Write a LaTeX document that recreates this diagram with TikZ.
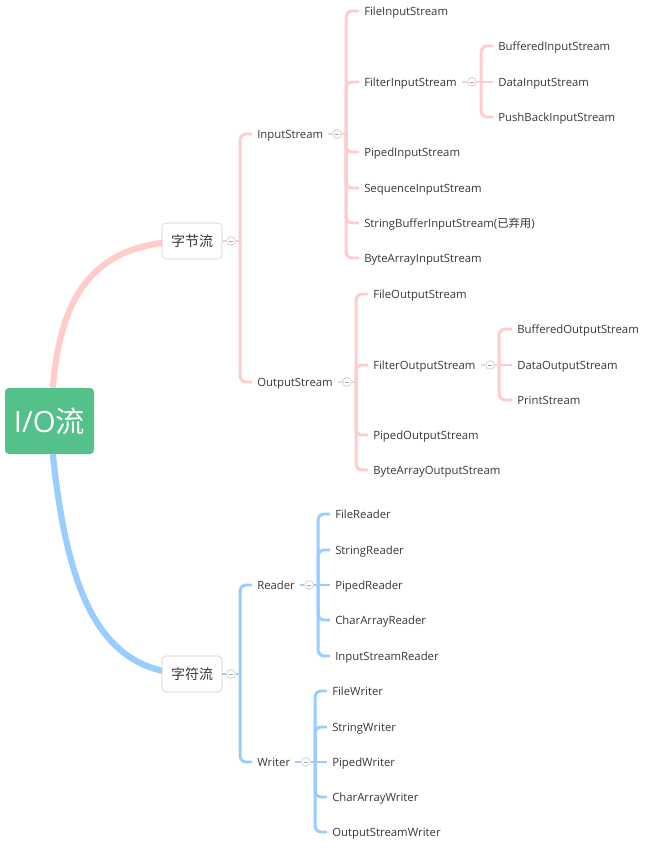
\documentclass[tikz,border=0pt]{standalone}
\usepackage{fontspec}
\setmainfont{Open Sans}
\newfontfamily\cjk{Noto Sans CJK SC}
\usetikzlibrary{positioning}

\definecolor{pinkline}{RGB}{255,204,204}
\definecolor{blueline}{RGB}{153,204,255}
\definecolor{rootgreen}{RGB}{84,192,138}
\newcommand{\leaffont}{\fontsize{8.5}{10}\selectfont}

\begin{document}
\begin{tikzpicture}[x=0.75pt, y=-0.75pt,
   leaf/.style = {anchor=west, inner xsep=3.75pt, inner ysep=1pt, text height=7.7pt,
                  text depth=1.3pt, font=\leaffont, text=black!78},
   fold/.style = {circle, draw=black!25, fill=white, minimum size=6.5pt, inner sep=0pt,
                  path picture={\draw[black!35, line width=.4pt]
                     ([xshift=-1.7pt]path picture bounding box.center) --
                     ([xshift=1.7pt]path picture bounding box.center);}},
   cat/.style = {rounded corners=3pt, draw=black!20, fill=white, minimum width=45pt,
                 minimum height=27pt, inner sep=0pt, font=\fontsize{10.5}{12}\cjk, text=black!78},
   pk/.style = {draw=pinkline, line width=2.2pt, rounded corners=4.5pt},
   bl/.style = {draw=blueline, line width=2.2pt, rounded corners=4.5pt}]
   \useasboundingbox (0,0) rectangle (644,848);
   \fill[white] (0,0) rectangle (644,848);

   % root and the two kinds of stream
   \node[rounded corners=3pt, fill=rootgreen, minimum width=66.75pt, minimum height=49.5pt,
         text=white, font=\fontsize{22}{26}\selectfont] (io) at (49.5,421) {I/O{\cjk 流}};
   \draw[pk, line width=4.6pt] ([xshift=2.5pt]io.north) .. controls (61,290) and (97,241) .. (192,241);
   \draw[bl, line width=4.6pt] ([xshift=2.5pt]io.south) .. controls (68,600) and (103,674) .. (192,674);
   \node[cat] (byte) at (192,241) {字节流};
   \node[cat] (char) at (192,674) {字符流};

   % byte streams
   \node[leaf] (in)  at (252,134) {InputStream};
   \node[leaf] (out) at (252,382) {OutputStream};

   \node[leaf] (fis)   at (359,11)  {FileInputStream};
   \node[leaf] (filis) at (359,82)  {FilterInputStream};
   \node[leaf] (pis)   at (359,152) {PipedInputStream};
   \node[leaf] (sis)   at (359,188) {SequenceInputStream};
   \node[leaf] (sbis)  at (359,223) {StringBufferInputStream({\cjk 已弃用})};
   \node[leaf] (bais)  at (359,258) {ByteArrayInputStream};

   \node[leaf] (bis)  at (493,46)  {BufferedInputStream};
   \node[leaf] (dis)  at (493,82)  {DataInputStream};
   \node[leaf] (pbis) at (493,117) {PushBackInputStream};

   \node[leaf] (fos)   at (368,294) {FileOutputStream};
   \node[leaf] (filos) at (368,365) {FilterOutputStream};
   \node[leaf] (pos)   at (368,435) {PipedOutputStream};
   \node[leaf] (baos)  at (368,470) {ByteArrayOutputStream};

   \node[leaf] (bos) at (512,329) {BufferedOutputStream};
   \node[leaf] (dos) at (512,365) {DataOutputStream};
   \node[leaf] (ps)  at (512,400) {PrintStream};

   % char streams
   \node[leaf] (rd) at (252,585) {Reader};
   \node[leaf] (wr) at (252,762) {Writer};

   \node[leaf] (frd)  at (330,514) {FileReader};
   \node[leaf] (srd)  at (330,550) {StringReader};
   \node[leaf] (prd)  at (330,585) {PipedReader};
   \node[leaf] (card) at (330,620) {CharArrayReader};
   \node[leaf] (isrd) at (330,656) {InputStreamReader};

   \node[leaf] (fwr)  at (327,691) {FileWriter};
   \node[leaf] (swr)  at (327,727) {StringWriter};
   \node[leaf] (pwr)  at (327,762) {PipedWriter};
   \node[leaf] (cawr) at (327,797) {CharArrayWriter};
   \node[leaf] (oswr) at (327,832) {OutputStreamWriter};

   % fold buttons
   \node[fold] (byte-f)  at (231,241) {};
   \node[fold] (in-f)    at (337,134) {};
   \node[fold] (filis-f) at (472,82)  {};
   \node[fold] (out-f)   at (347,382) {};
   \node[fold] (filos-f) at (490,365) {};
   \node[fold] (char-f)  at (231,674) {};
   \node[fold] (rd-f)    at (309,585) {};
   \node[fold] (wr-f)    at (306,762) {};

   % connectors
   \draw[pk] (byte.east) -- (byte-f.west);
   \draw[pk] (byte-f.east) -- ++(4.5,0) coordinate (byte-b);
   \foreach \n in {in,out} \draw[pk] (byte-b) |- (\n.west);

   \draw[pk] (in.east) -- (in-f.west);
   \draw[pk] (in-f.east) -- ++(4.5,0) coordinate (in-b);
   \foreach \n in {fis,filis,pis,sis,sbis,bais} \draw[pk] (in-b) |- (\n.west);

   \draw[pk] (filis.east) -- (filis-f.west);
   \draw[pk] (filis-f.east) -- (dis.west);
   \path (filis-f.east) ++(4.5,0) coordinate (filis-b);
   \foreach \n in {bis,pbis} \draw[pk] (filis-b) |- (\n.west);

   \draw[pk] (out.east) -- (out-f.west);
   \draw[pk] (out-f.east) -- ++(4.5,0) coordinate (out-b);
   \foreach \n in {fos,filos,pos,baos} \draw[pk] (out-b) |- (\n.west);

   \draw[pk] (filos.east) -- (filos-f.west);
   \draw[pk] (filos-f.east) -- (dos.west);
   \path (filos-f.east) ++(4.5,0) coordinate (filos-b);
   \foreach \n in {bos,ps} \draw[pk] (filos-b) |- (\n.west);
   %
   \draw[bl] (char.east) -- (char-f.west);
   \draw[bl] (char-f.east) -- ++(4.5,0) coordinate (char-b);
   \foreach \n in {rd,wr} \draw[bl] (char-b) |- (\n.west);

   \draw[bl] (rd.east) -- (rd-f.west);
   \draw[bl] (rd-f.east) -- (prd.west);
   \path (rd-f.east) ++(4.5,0) coordinate (rd-b);
   \foreach \n in {frd,srd,card,isrd} \draw[bl] (rd-b) |- (\n.west);

   \draw[bl] (wr.east) -- (wr-f.west);
   \draw[bl] (wr-f.east) -- (pwr.west);
   \path (wr-f.east) ++(4.5,0) coordinate (wr-b);
   \foreach \n in {fwr,swr,cawr,oswr} \draw[bl] (wr-b) |- (\n.west);
\end{tikzpicture}
\end{document}
